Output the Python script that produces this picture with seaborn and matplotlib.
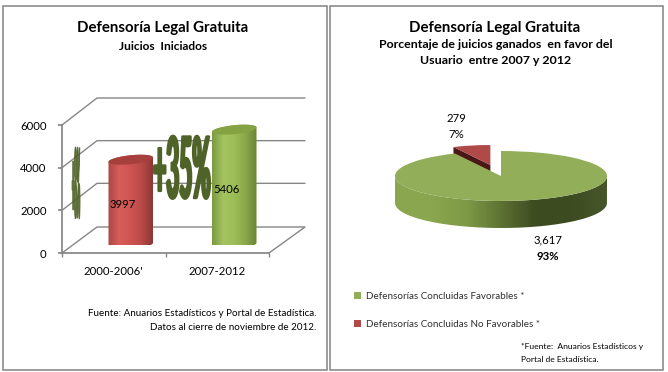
import matplotlib
matplotlib.use("Agg")
import matplotlib.patheffects as pe
import matplotlib.pyplot as plt
import numpy as np
import pandas as pd
import seaborn as sns
from matplotlib.colors import LinearSegmentedColormap
from matplotlib.patches import PathPatch, Polygon, Rectangle
from matplotlib.path import Path
from matplotlib.transforms import Affine2D

W, H = 668, 372

periods = ["2000-2006'", "2007-2012"]
juicios = [3997, 5406]
y_ticks = [0, 2000, 4000, 6000]
outcomes = ["Defensorías Concluidas Favorables *", "Defensorías Concluidas No Favorables *"]
outcome_counts = [3617, 279]

RED_CMAP = ["#ab4846", "#d65d5a", "#cf5552", "#b84a48", "#8f3734"]
GREEN_CMAP = ["#7d9a43", "#a4c460", "#9dbd58", "#8aa84b", "#6b8534"]
WALL_CMAP = ["#8aa64e", "#8aa64e", "#7f9a47", "#5d7233", "#3d4b21", "#3d4b21", "#46562a"]
GRID = "#868686"


class Squeeze(pe.AbstractPathEffect):
    """Stretches a text around a point so it looks like the WordArt labels."""

    def __init__(self, cx, cy, sx, sy, stroke):
        super().__init__()
        self.cx, self.cy, self.sx, self.sy, self.stroke = cx, cy, sx, sy, stroke

    def draw_path(self, renderer, gc, tpath, affine, rgbFace=None):
        warp = Affine2D().translate(-self.cx, -self.cy).scale(self.sx, self.sy).translate(self.cx, self.cy)
        gc0 = renderer.new_gc()
        gc0.copy_properties(gc)
        gc0.set_linewidth(self.stroke)
        gc0.set_foreground(rgbFace)
        renderer.draw_path(gc0, tpath, affine + warp, rgbFace)
        gc0.restore()


def px_axes(fig, left, top, right, bottom):
    return fig.add_axes([left / W, 1 - bottom / H, (right - left) / W, (bottom - top) / H])


def cylinder(ax, bar, colors, top_color, slope, ellipse_h):
    cx = bar.get_x() + bar.get_width() / 2
    half = bar.get_width() / 2
    value = bar.get_height()
    t = np.linspace(0, 2 * np.pi, 121)

    def rim(y0, angles):
        xs = cx + half * np.cos(angles)
        return np.column_stack([xs, y0 + ellipse_h / 2 * np.sin(angles) + slope * (xs - cx)])

    body = np.vstack([rim(0, t[60:]), rim(value, t[:61])])
    clip = PathPatch(Path(body), transform=ax.transData, fc="none", ec="none")
    ax.add_patch(clip)
    cmap = LinearSegmentedColormap.from_list("cyl", colors)
    im = ax.imshow(np.linspace(0, 1, 64)[None, :], cmap=cmap, aspect="auto", zorder=2,
                   extent=(cx - half, cx + half, -ellipse_h, value + ellipse_h))
    im.set_clip_path(clip)
    ax.add_patch(Polygon(rim(value, t), closed=True, fc=top_color, ec="none", zorder=3))
    bar.set_visible(False)


sns.set_theme(style="white")
plt.rcParams["font.family"] = ["Lato", "DejaVu Sans"]
fig = plt.figure(figsize=(W / 100, H / 100), dpi=100, facecolor="white")

# pixel layer: panel borders, 3d walls and all the loose text
bg = fig.add_axes([0, 0, 1, 1], zorder=0)
bg.set_xlim(0, W)
bg.set_ylim(H, 0)
bg.axis("off")
bg.add_patch(Rectangle((3, 6), 324, 364, fc="none", ec="#8c8c8c", lw=1.2))
bg.add_patch(Rectangle((330, 6), 333, 364, fc="none", ec="#8c8c8c", lw=1.2))

for tick in y_ticks:
    y = 253 - tick * 128 / 6000
    if tick == 0:
        bg.plot([62, 97, 305, 269], [y, 227, 227, 253], color=GRID, lw=1)
    else:
        bg.plot([62, 97, 305], [y, y - 27, y - 27], color=GRID, lw=1)

bg.text(163, 28, "Defensoría Legal Gratuita", ha="center", va="center", fontsize=10.8, fontweight="bold", color="black")
bg.text(163, 46, "Juicios  Iniciados", ha="center", va="center", fontsize=8.6, fontweight="bold", color="black")
bg.text(495, 28, "Defensoría Legal Gratuita", ha="center", va="center", fontsize=10.8, fontweight="bold", color="black")
bg.text(496, 45, "Porcentaje de juicios ganados  en favor del", ha="center", va="center", fontsize=8.9, fontweight="bold", color="black")
bg.text(496, 60, "Usuario  entre 2007 y 2012", ha="center", va="center", fontsize=8.9, fontweight="bold", color="black")
bg.text(316, 313, "Fuente: Anuarios Estadísticos y Portal de Estadística.", ha="right", va="center", fontsize=7.1, color="black")
bg.text(316, 327, "Datos al cierre de noviembre de 2012.", ha="right", va="center", fontsize=7.1, color="black")
bg.text(521, 347, "*Fuente:  Anuarios Estadísticos y", ha="left", va="center", fontsize=6.1, color="black")
bg.text(521, 359, "Portal de Estadística.", ha="left", va="center", fontsize=6.1, color="black")

# stretched WordArt labels
bg.text(182, 171, "+35%", ha="center", va="center", fontsize=17, color="#4f6228", fontweight="bold",
        path_effects=[Squeeze(182, H - 171, 0.95, 3.6, 1.8)])
bg.text(76, 183, "+8%", ha="center", va="center", fontsize=5, color="#4f6228", alpha=0.85, fontweight="bold",
        path_effects=[Squeeze(76, H - 183, 0.6, 14, 0.7)])

# front plane of the 3d box, carries the axis
front = px_axes(fig, 62, 125, 269, 253)
front.set_zorder(1)
front.patch.set_visible(False)
front.set_xlim(-0.5, 1.5)
front.set_ylim(0, 6000)
front.set_yticks(y_ticks)
front.set_xticks([0, 1], periods)
front.set_xticks([-0.5, 0.5, 1.5], minor=True)
front.tick_params(axis="x", which="major", length=0, pad=9.5, labelsize=8.2, labelcolor="black")
front.tick_params(axis="x", which="minor", length=3, color=GRID, bottom=True)
front.tick_params(axis="y", length=3, color=GRID, pad=8, labelsize=8.2, labelcolor="black", left=True)
for name, spine in front.spines.items():
    spine.set_visible(name in ("left", "bottom"))
    spine.set_color(GRID)

# bars stand in the middle of the box depth
bars_ax = px_axes(fig, 79, 117, 286, 245)
bars_ax.set_zorder(2)
bars_ax.patch.set_visible(False)
df = pd.DataFrame({"periodo": periods, "juicios": juicios})
sns.barplot(data=df, x="periodo", y="juicios", width=0.43, ax=bars_ax)
bars_ax.set_xlim(-0.5, 1.5)
bars_ax.set_ylim(0, 6000)
bars_ax.axis("off")
for bar, colors, top_color in zip(bars_ax.patches, [RED_CMAP, GREEN_CMAP], ["#a5403d", "#86a343"]):
    cylinder(bars_ax, bar, colors, top_color, 480, 420)
    bars_ax.text(bar.get_x() + 0.01, bar.get_height() * 0.48, f"{int(bar.get_height())}", ha="left", va="center",
                 fontsize=8.2, color="black", zorder=5, clip_on=False)
bars_ax.set_xlim(-0.5, 1.5)
bars_ax.set_ylim(0, 6000)

# pie squashed into an ellipse, one data unit is (a, b) pixels
CX, CY, A, B, DEPTH = 501, 176, 106, 25, 27
pie_ax = px_axes(fig, 335, 100, 660, 270)
pie_ax.set_zorder(1)
wedges, _ = pie_ax.pie(outcome_counts, colors=["#93ae59", "#b04a48"], startangle=90, counterclock=False,
                       explode=[0, 0.45], wedgeprops={"linewidth": 0})
pie_ax.set_aspect("auto")
RED_R = 0.8
wedges[1].set_radius(RED_R)
for w in wedges:
    w.set_zorder(3)

t = np.linspace(np.pi, 2 * np.pi, 100)
d = DEPTH / B
wall = np.vstack([np.column_stack([np.cos(t), np.sin(t)]), np.column_stack([np.cos(t[::-1]), np.sin(t[::-1]) - d])])
wall_clip = PathPatch(Path(wall), transform=pie_ax.transData, fc="none", ec="none")
pie_ax.add_patch(wall_clip)
im = pie_ax.imshow(np.linspace(0, 1, 128)[None, :], cmap=LinearSegmentedColormap.from_list("wall", WALL_CMAP),
                   aspect="auto", extent=(-1, 1, -1 - d, 0.1), zorder=2)
im.set_clip_path(wall_clip)
pie_ax.set_xlim((335 - CX) / A, (660 - CX) / A)
pie_ax.set_ylim((CY - 270) / B, (CY - 100) / B)

# dark cut face of the pulled out slice
tip = np.array(wedges[1].center)
ang = np.deg2rad(wedges[1].theta2)
edge = tip + RED_R * np.array([np.cos(ang), np.sin(ang)])
drop = np.array([0, 8 / B])
pie_ax.add_patch(Polygon([edge, tip, tip - drop, edge - drop], closed=True, fc="#4a1716", ec="none", zorder=2))

total = sum(outcome_counts)
bg.text(548, 240, f"{outcome_counts[0]:,}", ha="center", va="center", fontsize=8.2, color="black")
bg.text(548, 256, f"{outcome_counts[0] / total:.0%}", ha="center", va="center", fontsize=8.2, fontweight="bold", color="black")
bg.text(456, 118, f"{outcome_counts[1]:,}", ha="center", va="center", fontsize=8.2, color="black")
bg.text(456, 134, f"{outcome_counts[1] / total:.0%}", ha="center", va="center", fontsize=8.2, color="black")

leg = fig.legend(wedges, outcomes, loc="upper left", bbox_to_anchor=(354 / W, 1 - 292 / H), frameon=False,
                 fontsize=7.1, handlelength=0.7, handleheight=0.7, handletextpad=0.5, labelspacing=1.95,
                 borderpad=0, borderaxespad=0, labelcolor="#303030")

fig.savefig("out.png", dpi=100)
